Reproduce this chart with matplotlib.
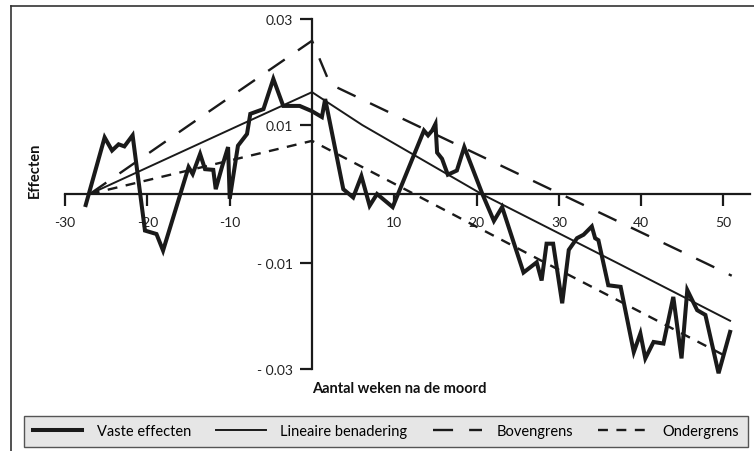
import numpy as np
import matplotlib
matplotlib.use('Agg')
import matplotlib.pyplot as plt
from matplotlib.lines import Line2D

plt.rcParams['font.family'] = ['Lato', 'DejaVu Sans']

# vaste effecten
weken = [-27.5, -25.2, -24.3, -23.5, -22.8, -21.8, -20.3, -18.9, -18.1, -15.0,
         -14.5, -13.6, -13.0, -12.0, -11.7, -10.9, -10.2, -10.0, -9.0, -7.9,
         -7.5, -5.9, -4.7, -3.5, -1.5, 0.0, 1.2, 1.6, 3.8, 5.0,
         6.0, 7.0, 7.9, 9.8, 13.6, 14.1, 14.6, 15.0, 15.2, 15.8,
         16.5, 17.6, 18.5, 20.7, 22.1, 23.1, 25.7, 27.3, 27.9, 28.5,
         29.3, 30.4, 31.2, 32.2, 33.0, 34.0, 34.4, 34.8, 36.0, 37.5,
         39.1, 39.9, 40.5, 41.5, 42.7, 43.9, 44.9, 45.6, 46.8, 47.8,
         49.4, 50.8]
vaste = [-0.0016, 0.0082, 0.0063, 0.0072, 0.0069, 0.0085, -0.0053, -0.0058, -0.0082, 0.0039,
         0.0029, 0.0058, 0.0036, 0.0035, 0.0007, 0.0041, 0.0068, -0.0007, 0.0070, 0.0087,
         0.0121, 0.0130, 0.0187, 0.0136, 0.0136, 0.0126, 0.0115, 0.0149, 0.0007, -0.0005,
         0.0026, -0.0017, 0.0000, -0.0019, 0.0092, 0.0085, 0.0092, 0.0102, 0.0060, 0.0051,
         0.0028, 0.0034, 0.0068, 0.0000, -0.0039, -0.0019, -0.0118, -0.0099, -0.0133, -0.0072,
         -0.0072, -0.0176, -0.0081, -0.0064, -0.0059, -0.0047, -0.0064, -0.0067, -0.0142, -0.0145,
         -0.0268, -0.0233, -0.0280, -0.0249, -0.0252, -0.0164, -0.0280, -0.0151, -0.0189, -0.0198,
         -0.0308, -0.0230]

# lineaire benadering
lin_w = [-27.0, -8.75, 0.0, 6.1, 20.6, 37.1, 50.8]
lin_v = [0.0, 0.0100, 0.0162, 0.0100, 0.0, -0.0100, -0.0209]

# bovengrens
bov_w = [-27.0, -14.9, 0.0, 2.2, 12.6, 47.8, 51.0]
bov_v = [0.0, 0.0100, 0.0259, 0.0177, 0.0100, -0.0100, -0.0124]

# ondergrens
ond_w = [-27.0, 0.0, 12.4, 28.4, 50.8]
ond_v = [0.0, 0.0077, 0.0, -0.0100, -0.0280]

xticks = [-30, -20, -10, 10, 20, 30, 40, 50]
xlabels = ['-30', '-20', '-10', '10', '20', '30', '40', '50']
yticks = [-0.03, -0.01, 0.01, 0.03]
ylabels = ['- 0.03', '- 0.01', '0.01', '0.03']


# de y-as in de grafiek is niet lineair: 0..0.01 is ruimer dan 0.01..0.03
def fwd(v):
    v = np.asarray(v, dtype=float)
    a = np.abs(v)
    return np.sign(v) * np.where(a <= 0.01, a * 6900, 69 + (a - 0.01) * 5300)


def inv(p):
    p = np.asarray(p, dtype=float)
    a = np.abs(p)
    return np.sign(p) * np.where(a <= 69, a / 6900, 0.01 + (a - 69) / 5300)


W, H = 754, 452
fig = plt.figure(figsize=(W / 100, H / 100), dpi=100)
ax = fig.add_axes([56.9 / W, (H - 380) / H, (752.3 - 56.9) / W, 365 / H])
ax.set_yscale('function', functions=(fwd, inv))
ax.set_xlim(-31, 53.5)
ax.set_ylim(float(inv(-185)), float(inv(180)))
ax.patch.set_visible(False)

ink = '#1a1a1a'
ax.plot(weken, vaste, color=ink, lw=2.9, solid_joinstyle='miter', zorder=3, clip_on=False,
        label='Vaste effecten')
ax.plot(lin_w, lin_v, color=ink, lw=1.4, zorder=3, label='Lineaire benadering')
ax.plot(bov_w, bov_v, color=ink, lw=1.7, linestyle=(0, (8.5, 6.8)), zorder=3, label='Bovengrens')
ax.plot(ond_w, ond_v, color=ink, lw=1.7, linestyle=(0, (4.2, 3.6)), zorder=3, label='Ondergrens')

for s in ['top', 'right']:
    ax.spines[s].set_visible(False)
ax.spines['left'].set_position(('data', 0))
ax.spines['bottom'].set_position(('data', 0))
ax.spines['left'].set_bounds(-0.03, 0.03)
ax.spines['bottom'].set_bounds(-30, 53.2)
for s in ['left', 'bottom']:
    ax.spines[s].set_linewidth(1.6)
    ax.spines[s].set_color(ink)

ax.set_xticks(xticks)
ax.set_xticklabels(xlabels)
ax.set_yticks(yticks)
ax.set_yticklabels(ylabels)
ax.minorticks_off()
ax.tick_params(axis='x', direction='out', length=8.6, width=1.6, pad=7, labelsize=10,
               color=ink, labelcolor='#222222')
ax.tick_params(axis='y', direction='out', length=8.6, width=1.6, pad=5, labelsize=10,
               color=ink, labelcolor='#222222')

fig.text(35 / W, 1 - 170 / H, 'Effecten', rotation=90, ha='center', va='center',
         fontsize=10.5, fontweight='bold', color='#111111')
fig.text(312 / W, 1 - 389 / H, 'Aantal weken na de moord', ha='left', va='center',
         fontsize=10.5, fontweight='bold', color='#111111')

# kader
fig.add_artist(Line2D([11 / W, 11 / W], [0, 1 - 7 / H], transform=fig.transFigure,
                      color='#333333', lw=1.2))
fig.add_artist(Line2D([11 / W, 1], [1 - 7 / H, 1 - 7 / H], transform=fig.transFigure,
                      color='#333333', lw=1.2))

leg = fig.legend(loc='lower left', bbox_to_anchor=(24 / W, 1 - 448 / H, (748 - 24) / W, 35 / H),
                 mode='expand', ncol=4, frameon=True, fancybox=False, framealpha=1,
                 facecolor='#e6e6e6', edgecolor='#555555', fontsize=10.5,
                 handlelength=3.4, handletextpad=1.0, borderpad=0.6, borderaxespad=0)
leg.get_frame().set_linewidth(1.0)

fig.savefig('out.png', dpi=100)
